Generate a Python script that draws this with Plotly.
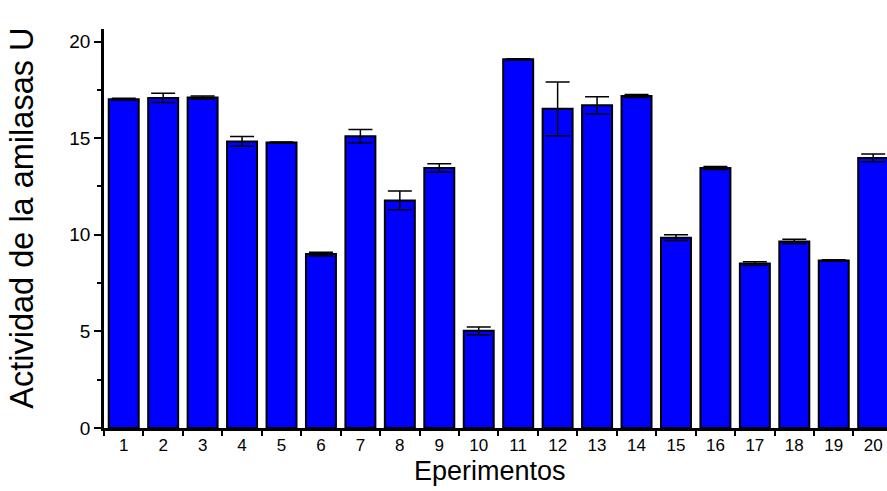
import plotly.graph_objects as go

experimentos = [str(i) for i in range(1, 21)]
actividad = [17.02, 17.08, 17.10, 14.83, 14.77, 9.00, 15.10, 11.78, 13.45, 5.03,
             19.08, 16.52, 16.70, 17.18, 9.85, 13.46, 8.51, 9.65, 8.67, 13.98]
error = [0.05, 0.24, 0.08, 0.25, 0.03, 0.10, 0.35, 0.48, 0.22, 0.20,
         0.03, 1.39, 0.45, 0.08, 0.15, 0.08, 0.10, 0.12, 0.04, 0.20]

y_ticks = [0, 5, 10, 15, 20]

FONT = "Liberation Sans, Arial, sans-serif"

fig = go.Figure()
fig.add_trace(go.Bar(
    x=experimentos,
    y=actividad,
    width=0.76,
    marker=dict(color="#0000FF", line=dict(color="black", width=2)),
    error_y=dict(type="data", array=error, visible=True,
                 color="black", thickness=1.5, width=12),
))

fig.update_layout(
    width=887, height=491,
    margin=dict(l=104, r=0, t=29, b=63),
    paper_bgcolor="white", plot_bgcolor="white",
    showlegend=False,
    font=dict(family=FONT, color="black", size=18),
    xaxis=dict(
        type="category",
        range=[-0.5, 19.35],
        tickson="boundaries",
        ticks="outside", ticklen=5, tickwidth=2, tickcolor="black",
        showline=True, linecolor="black", linewidth=2.5,
        showgrid=False, zeroline=False,
        tickfont=dict(size=17),
    ),
    yaxis=dict(
        range=[0, 20.65],
        tickvals=y_ticks,
        ticks="outside", ticklen=7, tickwidth=2, tickcolor="black",
        minor=dict(dtick=2.5, tick0=0, ticks="outside", ticklen=4,
                   tickwidth=2, tickcolor="black"),
        showline=True, linecolor="black", linewidth=2.5,
        showgrid=False, zeroline=False,
        tickfont=dict(size=19),
    ),
    annotations=[
        dict(text="Eperimentos", xref="paper", yref="paper",
             x=0.493, y=-0.108, xanchor="center", yanchor="middle",
             showarrow=False, font=dict(size=27)),
        dict(text="Actividad de la amilasas U", xref="paper", yref="paper",
             x=-0.104, y=0.526, xanchor="center", yanchor="middle",
             textangle=-90, showarrow=False, font=dict(size=32.5)),
    ],
)

fig.write_html("out.html")
